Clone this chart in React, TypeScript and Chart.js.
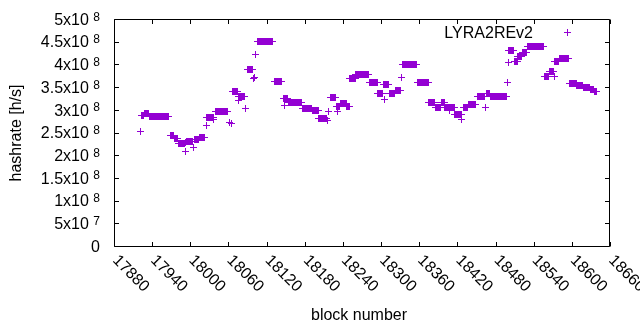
import { useEffect, useRef } from 'react';
import { Chart, registerables } from 'chart.js';

Chart.register(...registerables);

// Runs of (nearly) constant hashrate: [start block, end block, value]
const runStart = [
  17921, 17923, 17928, 17936, 17969, 17975, 17981, 17993, 17992, 17994,
  18005, 18007, 18014, 18025, 18026, 18037, 18039, 18062, 18064, 18066,
  18075, 18076, 18087, 18090, 18100, 18101, 18103, 18106, 18133, 18146,
  18148, 18154, 18176, 18192, 18202, 18216, 18218, 18221, 18230, 18232,
  18236, 18246, 18251, 18260, 18282, 18295, 18305, 18304, 18313, 18323,
  18332, 18334, 18357, 18375, 18385, 18395, 18400, 18408, 18416, 18427,
  18429, 18437, 18451, 18464, 18465, 18472, 18499, 18500, 18501, 18510,
  18515, 18522, 18530, 18557, 18565, 18572, 18573, 18580, 18596, 18608,
  18618, 18629, 18635,
];
const runEnd = [
  17921, 17927, 17935, 17966, 17974, 17980, 17991, 17993, 17992, 18003,
  18005, 18013, 18022, 18025, 18036, 18037, 18059, 18062, 18064, 18074,
  18075, 18086, 18087, 18098, 18100, 18101, 18103, 18129, 18143, 18153,
  18148, 18175, 18191, 18201, 18214, 18216, 18218, 18228, 18235, 18232,
  18245, 18250, 18259, 18281, 18294, 18302, 18305, 18312, 18321, 18331,
  18332, 18355, 18374, 18384, 18394, 18399, 18415, 18408, 18426, 18427,
  18436, 18449, 18463, 18464, 18471, 18498, 18499, 18500, 18509, 18514,
  18521, 18529, 18555, 18564, 18571, 18572, 18579, 18594, 18607, 18617,
  18628, 18634, 18639,
];
// hashrate in h/s
const runValue = [
  2.52e8, 2.87e8, 2.91e8, 2.86e8, 2.44e8, 2.36e8, 2.25e8, 2.08e8, 2.28e8, 2.30e8,
  2.16e8, 2.35e8, 2.39e8, 2.66e8, 2.84e8, 2.78e8, 2.96e8, 2.72e8, 2.69e8, 3.40e8,
  3.20e8, 3.29e8, 3.02e8, 3.88e8, 3.69e8, 3.72e8, 4.21e8, 4.50e8, 3.63e8, 3.25e8,
  3.09e8, 3.15e8, 3.02e8, 2.98e8, 2.81e8, 2.76e8, 2.97e8, 3.26e8, 3.07e8, 2.96e8,
  3.14e8, 3.08e8, 3.68e8, 3.77e8, 3.60e8, 3.35e8, 3.22e8, 3.55e8, 3.37e8, 3.42e8,
  3.72e8, 4.00e8, 3.60e8, 3.15e8, 3.05e8, 3.17e8, 3.05e8, 2.98e8, 2.90e8, 2.78e8,
  3.04e8, 3.12e8, 3.29e8, 3.06e8, 3.36e8, 3.30e8, 3.61e8, 4.05e8, 4.30e8, 4.07e8,
  4.18e8, 4.27e8, 4.40e8, 3.73e8, 3.85e8, 3.74e8, 4.07e8, 4.13e8, 3.58e8, 3.54e8,
  3.50e8, 3.45e8, 3.40e8,
];

const seriesName = 'LYRA2REv2';
const xTicks = [17880, 17940, 18000, 18060, 18120, 18180, 18240, 18300, 18360, 18420, 18480, 18540, 18600, 18660];
const xTickLabels = ['17880', '17940', '18000', '18060', '18120', '18180', '18240', '18300', '18360', '18420', '18480', '18540', '18600', '18660'];
const yTicks = [0, 5e7, 1e8, 1.5e8, 2e8, 2.5e8, 3e8, 3.5e8, 4e8, 4.5e8, 5e8];
const yTickBase = ['0', '5x10', '1x10', '1.5x10', '2x10', '2.5x10', '3x10', '3.5x10', '4x10', '4.5x10', '5x10'];
const yTickExp = ['', '7', '8', '8', '8', '8', '8', '8', '8', '8', '8'];
const xTitle = 'block number';
const yTitle = 'hashrate [h/s]';

const COLOR = '#9400D3';
const FONT = '"Liberation Sans", Arial, sans-serif';
const TICK = 4.5;

function makeCrossImage(): HTMLCanvasElement {
  const c = document.createElement('canvas');
  c.width = 7;
  c.height = 7;
  const g = c.getContext('2d')!;
  g.fillStyle = COLOR;
  g.fillRect(0, 3, 7, 1);
  g.fillRect(3, 0, 1, 7);
  return c;
}

const crispPoints = {
  id: 'crispPoints',
  beforeDatasetsDraw(chart: any) {
    chart.ctx.save();
    chart.ctx.imageSmoothingEnabled = false;
  },
  afterDatasetsDraw(chart: any) {
    chart.ctx.restore();
  },
};

const frame = {
  id: 'gnuplotFrame',
  afterDraw(chart: any) {
    const { ctx, chartArea: a, scales } = chart;
    const xs = scales.x;
    const ys = scales.y;
    ctx.save();
    ctx.strokeStyle = '#000';
    ctx.lineWidth = 1;
    const L = a.left + 0.5;
    const R = a.right - 0.5;
    const T = a.top + 0.5;
    const B = a.bottom + 0.5;
    ctx.beginPath();
    ctx.rect(L, T, R - L, B - T);
    ctx.stroke();

    ctx.beginPath();
    for (const t of xTicks) {
      const px = Math.round(xs.getPixelForValue(t)) + 0.5;
      ctx.moveTo(px, B);
      ctx.lineTo(px, B - TICK);
      ctx.moveTo(px, T);
      ctx.lineTo(px, T + TICK);
    }
    for (const t of yTicks) {
      const py = Math.round(ys.getPixelForValue(t)) + 0.5;
      ctx.moveTo(L, py);
      ctx.lineTo(L + TICK, py);
      ctx.moveTo(R, py);
      ctx.lineTo(R - TICK, py);
    }
    ctx.stroke();

    ctx.fillStyle = '#000';
    ctx.textBaseline = 'alphabetic';
    yTicks.forEach((t, i) => {
      const py = ys.getPixelForValue(t);
      const right = 100;
      const exp = yTickExp[i];
      ctx.textAlign = 'right';
      if (exp) {
        ctx.font = `12px ${FONT}`;
        const ew = ctx.measureText(exp).width;
        ctx.fillText(exp, right, py + 1.5);
        ctx.font = `16px ${FONT}`;
        ctx.fillText(yTickBase[i], right - ew - 4.5, py + 5.7);
      } else {
        ctx.font = `16px ${FONT}`;
        ctx.fillText(yTickBase[i], right, py + 5.7);
      }
    });

    ctx.font = `16px ${FONT}`;
    ctx.textAlign = 'left';
    ctx.textBaseline = 'middle';
    xTicks.forEach((t, i) => {
      const px = xs.getPixelForValue(t);
      ctx.save();
      ctx.translate(px + 1, a.bottom + 12);
      ctx.rotate(Math.PI / 4);
      ctx.fillText(xTickLabels[i], 0, 0);
      ctx.restore();
    });

    ctx.textAlign = 'center';
    ctx.textBaseline = 'middle';
    ctx.fillText(xTitle, 359, 316);
    ctx.save();
    ctx.translate(17, 133);
    ctx.rotate(-Math.PI / 2);
    ctx.fillText(yTitle, 0, 0);
    ctx.restore();

    ctx.textAlign = 'right';
    ctx.textBaseline = 'alphabetic';
    ctx.fillText(seriesName, 533, 37.5);
    ctx.fillStyle = COLOR;
    ctx.fillRect(564, 32, 7, 1);
    ctx.fillRect(567, 29, 1, 7);
    ctx.restore();
  },
};

export default function App() {
  const ref = useRef<HTMLCanvasElement | null>(null);

  useEffect(() => {
    document.body.style.margin = '0';
    const canvas = ref.current;
    if (!canvas) return;
    const points: { x: number; y: number }[] = [];
    runStart.forEach((s, i) => {
      for (let b = s; b <= runEnd[i]; b++) points.push({ x: b, y: runValue[i] });
    });
    const chart = new Chart(canvas, {
      type: 'scatter',
      data: {
        datasets: [
          {
            label: seriesName,
            data: points,
            pointStyle: makeCrossImage(),
            pointRadius: 3.5,
            borderColor: COLOR,
            backgroundColor: COLOR,
            showLine: false,
          } as any,
        ],
      },
      options: {
        responsive: false,
        animation: false,
        devicePixelRatio: 1,
        events: [],
        layout: { padding: { left: 114, right: 30, top: 19, bottom: 84 } },
        plugins: { legend: { display: false }, tooltip: { enabled: false } },
        scales: {
          x: { type: 'linear', min: 17880, max: 18660, display: false },
          y: { type: 'linear', min: 0, max: 5e8, display: false },
        },
      },
      plugins: [crispPoints, frame],
    });
    return () => chart.destroy();
  }, []);

  return (
    <div style={{ width: 640, height: 330, background: '#fff' }}>
      <canvas ref={ref} width={640} height={330} style={{ width: 640, height: 330, display: 'block' }} />
    </div>
  );
}
